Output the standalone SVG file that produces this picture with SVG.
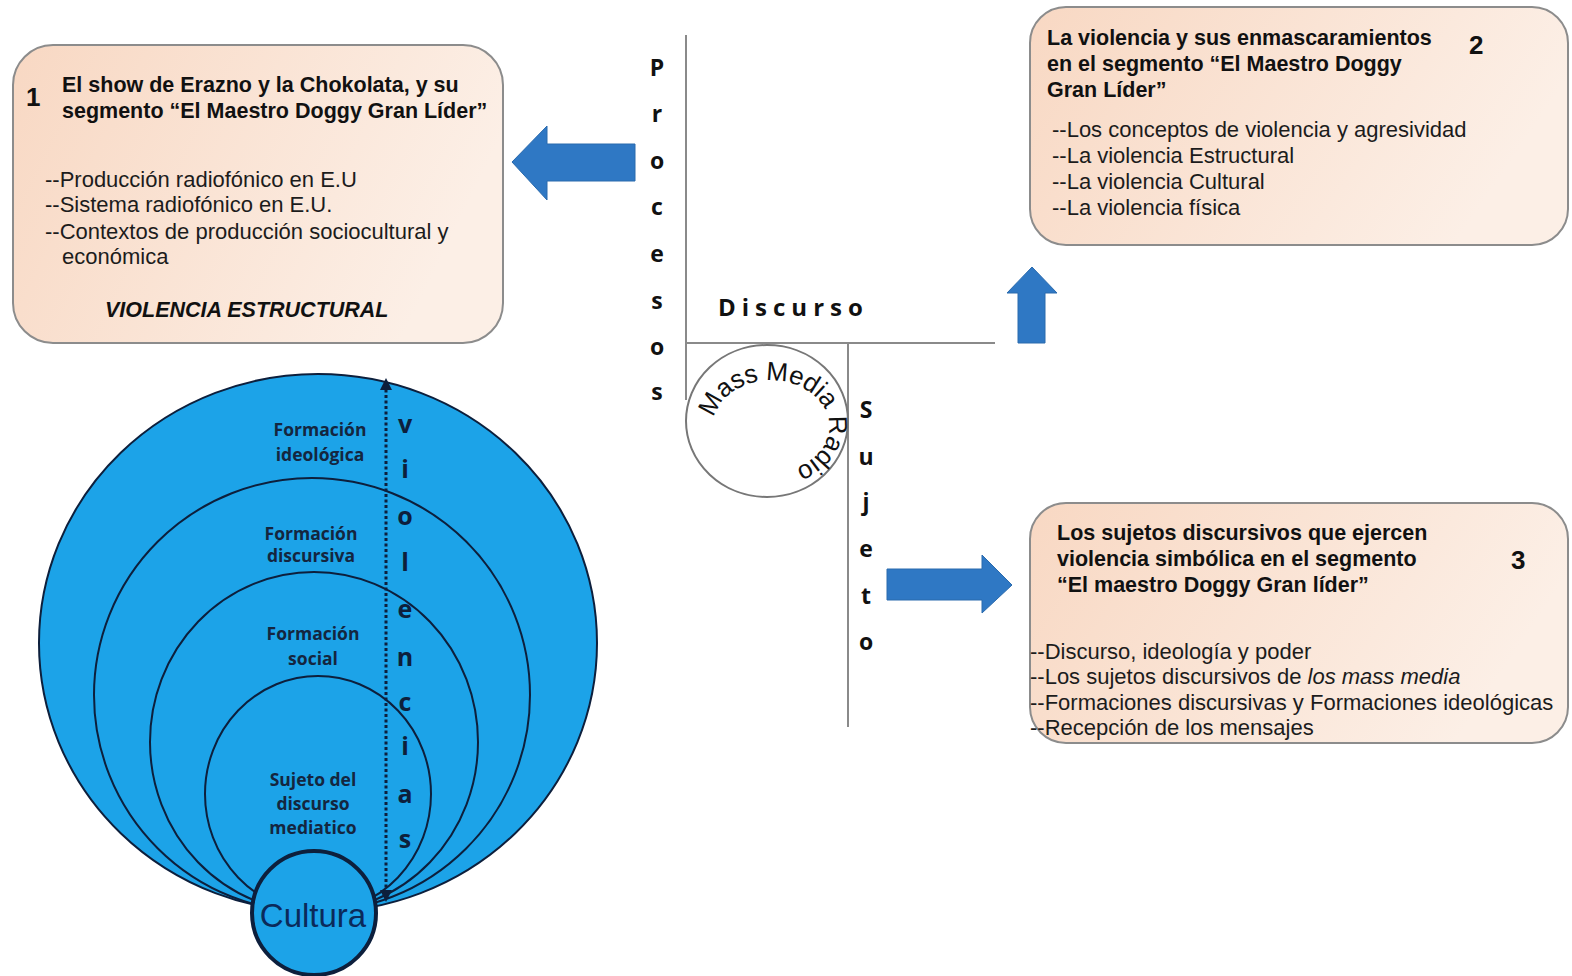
<svg xmlns="http://www.w3.org/2000/svg" xmlns:xlink="http://www.w3.org/1999/xlink" width="1572" height="976" viewBox="0 0 1572 976">
<defs>
<linearGradient id="peach" x1="0" y1="0" x2="1" y2="0.3">
<stop offset="0" stop-color="#f8d8c3"/>
<stop offset="1" stop-color="#fcefe6"/>
</linearGradient>
<marker id="dotHead" viewBox="0 0 10 10" refX="5" refY="5" markerWidth="4" markerHeight="4" orient="auto-start-reverse">
<path d="M0,0 L10,5 L0,10 z" fill="#0d1f3c"/>
</marker>
<path id="mmPath" d="M 714 418 A 58 46 0 1 1 778 472"/>
<style>
.box{fill:url(#peach);stroke:#8c8c8c;stroke-width:2}
.ttl{font-family:"Liberation Sans",Arial,sans-serif;font-weight:bold;font-size:21.5px;fill:#111}
.body{font-family:"Liberation Sans",Arial,sans-serif;font-size:22px;fill:#1c1c1c}
.num{font-family:"Liberation Sans",Arial,sans-serif;font-weight:bold;font-size:26px;fill:#111}
.arrow{fill:#2f78c4;stroke:#2a6aad;stroke-width:1}
.line{stroke:#8a8a8a;stroke-width:2;fill:none}
.vert{font-family:"Open Sans","Liberation Sans",sans-serif;font-weight:bold;font-size:23px;fill:#111;text-anchor:middle}
.ring{fill:#1ca3e8;stroke:#0d1f3c;stroke-width:2}
.lab{font-family:"Open Sans","Liberation Sans",sans-serif;font-weight:bold;font-size:17.5px;fill:#14263f;text-anchor:middle}
.vio{font-family:"Open Sans","Liberation Sans",sans-serif;font-weight:bold;font-size:25px;fill:#0d1f3c;text-anchor:middle}
</style>
</defs>
<rect width="1572" height="976" fill="#ffffff"/>

<g id="node1">
<rect class="box" x="13" y="45" width="490" height="298" rx="40"/>
<text class="num" x="26" y="106">1</text>
<text class="ttl" x="62" y="92">El show de Erazno y la Chokolata, y su</text>
<text class="ttl" x="62" y="118">segmento “El Maestro Doggy Gran Líder”</text>
<text class="body" x="45" y="187">--Producción radiofónico en E.U</text>
<text class="body" x="45" y="212">--Sistema radiofónico en E.U.</text>
<text class="body" x="45" y="239">--Contextos de producción sociocultural y</text>
<text class="body" x="62" y="264">económica</text>
<text class="ttl" x="105" y="317" font-style="italic">VIOLENCIA ESTRUCTURAL</text>
</g>

<g id="node2">
<rect class="box" x="1030" y="7" width="538" height="238" rx="36"/>
<text class="ttl" x="1047" y="45">La violencia y sus enmascaramientos</text>
<text class="ttl" x="1047" y="71">en el segmento “El Maestro Doggy</text>
<text class="ttl" x="1047" y="97">Gran Líder”</text>
<text class="num" x="1469" y="54">2</text>
<text class="body" x="1052" y="137">--Los conceptos de violencia y agresividad</text>
<text class="body" x="1052" y="163">--La violencia Estructural</text>
<text class="body" x="1052" y="189">--La violencia Cultural</text>
<text class="body" x="1052" y="215">--La violencia física</text>
</g>

<g id="node3">
<rect class="box" x="1030" y="503" width="538" height="240" rx="36"/>
<text class="ttl" x="1057" y="540">Los sujetos discursivos que ejercen</text>
<text class="ttl" x="1057" y="566">violencia simbólica en el segmento</text>
<text class="ttl" x="1057" y="592">“El maestro Doggy Gran líder”</text>
<text class="num" x="1511" y="569">3</text>
<text class="body" x="1030" y="659">--Discurso, ideología y poder</text>
<text class="body" x="1030" y="684">--Los sujetos discursivos de <tspan font-style="italic">los mass media</tspan></text>
<text class="body" x="1030" y="710">--Formaciones discursivas y Formaciones ideológicas</text>
<text class="body" x="1030" y="735" fill="#000">--Recepción de los mensajes</text>
</g>

<g id="center">
<line class="line" x1="686" y1="35" x2="686" y2="400"/>
<line class="line" x1="686" y1="343" x2="995" y2="343"/>
<line class="line" x1="848" y1="343" x2="848" y2="727"/>
<ellipse cx="767" cy="421" rx="81" ry="76" fill="none" stroke="#777" stroke-width="2"/>
<text font-family="'Liberation Sans',Arial,sans-serif" font-size="26px" fill="#111"><textPath xlink:href="#mmPath" href="#mmPath" textLength="212" lengthAdjust="spacing">Mass Media Radio</textPath></text>
<text class="vert" x="657"><tspan x="657" y="76">P</tspan><tspan x="657" y="122">r</tspan><tspan x="657" y="169">o</tspan><tspan x="657" y="215">c</tspan><tspan x="657" y="262">e</tspan><tspan x="657" y="309">s</tspan><tspan x="657" y="355">o</tspan><tspan x="657" y="400">s</tspan></text>
<text class="vert" x="866"><tspan x="866" y="418">S</tspan><tspan x="866" y="465">u</tspan><tspan x="866" y="510">j</tspan><tspan x="866" y="557">e</tspan><tspan x="866" y="604">t</tspan><tspan x="866" y="650">o</tspan></text>
<text x="718" y="316" font-family="'Open Sans','Liberation Sans',sans-serif" font-weight="bold" font-size="24px" letter-spacing="6" fill="#111">Discurso</text>
</g>

<g id="connectors">
<polygon class="arrow" points="512,162 547,126 547,144 635,144 635,181 547,181 547,200"/>
<polygon class="arrow" points="1032,267 1057,293 1045,293 1045,343 1018,343 1018,293 1007,293"/>
<polygon class="arrow" points="887,569 982,569 982,555 1012,585 982,613 982,600 887,600"/>
</g>

<g id="circles">
<ellipse class="ring" cx="318" cy="643" rx="279" ry="269"/>
<ellipse class="ring" cx="312" cy="695" rx="218" ry="217"/>
<ellipse class="ring" cx="314" cy="742" rx="164" ry="170"/>
<ellipse class="ring" cx="318" cy="794" rx="113" ry="118"/>
<text class="lab" x="320" y="436">Formación</text>
<text class="lab" x="320" y="461">ideológica</text>
<text class="lab" x="311" y="540">Formación</text>
<text class="lab" x="311" y="562">discursiva</text>
<text class="lab" x="313" y="640">Formación</text>
<text class="lab" x="313" y="665">social</text>
<text class="lab" x="313" y="786">Sujeto del</text>
<text class="lab" x="313" y="810">discurso</text>
<text class="lab" x="313" y="834">mediatico</text>
<g id="cultura">
<circle cx="314" cy="913" r="62" fill="#1ca3e8" stroke="#0d1f3c" stroke-width="4"/>
<text x="313" y="927" font-family="'Liberation Sans',Arial,sans-serif" font-size="33px" fill="#0b2a5a" text-anchor="middle">Cultura</text>
</g>
<line x1="386" y1="384" x2="386" y2="896" stroke="#0d1f3c" stroke-width="3" stroke-dasharray="3 2.5" marker-start="url(#dotHead)" marker-end="url(#dotHead)"/>
<text class="vio"><tspan x="405" y="433">v</tspan><tspan x="405" y="478">i</tspan><tspan x="405" y="525">o</tspan><tspan x="405" y="571">l</tspan><tspan x="405" y="618">e</tspan><tspan x="405" y="666">n</tspan><tspan x="405" y="711">c</tspan><tspan x="405" y="755">i</tspan><tspan x="405" y="803">a</tspan><tspan x="405" y="848">s</tspan></text>
</g>
</svg>
